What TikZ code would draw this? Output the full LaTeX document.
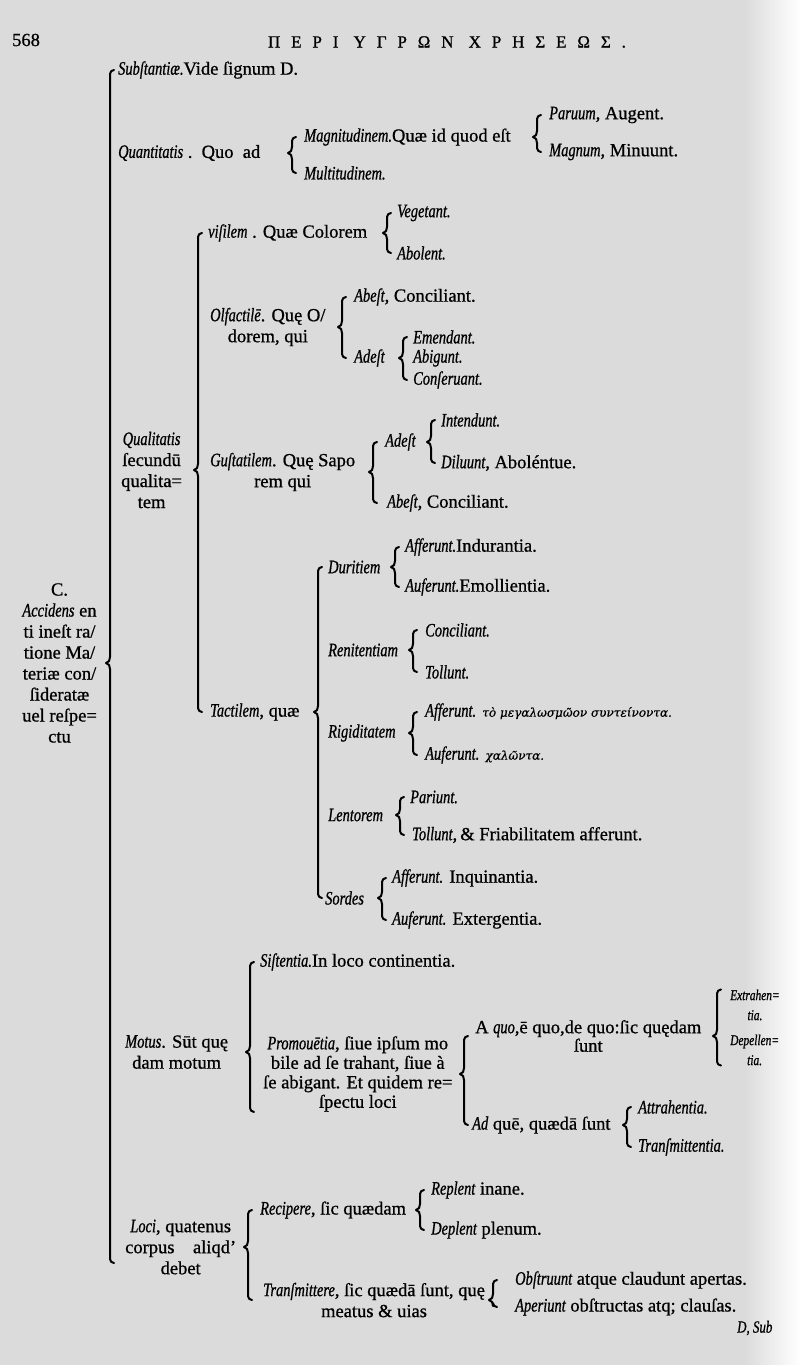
\documentclass[tikz,border=0pt]{standalone}
\usepackage{fontspec}
\setmainfont{Liberation Serif}[FakeBold=0.8]
\newfontfamily\itfont{Liberation Serif}[FakeStretch=0.76, FakeBold=0.8]
\newfontfamily\grk{DejaVu Serif}[FakeBold=0.5]
\newfontfamily\hdfont{Liberation Serif}[LetterSpace=64, FakeBold=1]
\usetikzlibrary{calc}

\definecolor{paper}{gray}{0.86}
\newcommand\I[1]{{\itfont\itshape\fontsize{19}{19}\selectfont #1}}

\tikzset{
  txt/.style={anchor=west, inner sep=0pt, align=center, font=\fontsize{18.5}{21}\selectfont},
  small/.style={txt, font=\itfont\itshape\fontsize{15}{20}\selectfont},
  brace/.style={line width=2pt, line cap=round, line join=round},
}

% parent, top child, bottom child
\newcommand\kbrace[4][9]{%
  \draw[brace] let \p1=(#3), \p2=(#4), \p3=(#2), \n1={\x1-#1} in
    ({\n1+4},\y1) to[out=180,in=90] (\n1,\y1-4pt) -- (\n1,\y3+6pt)
    to[out=-90,in=0] ({\n1-4},\y3) to[out=0,in=90] (\n1,\y3-6pt)
    -- (\n1,\y2+4pt) to[out=-90,in=180] ({\n1+4},\y2);}

\begin{document}
\begin{tikzpicture}[x=1pt,y=-1pt]
\useasboundingbox (0,0) rectangle (800,1365);
\fill[paper] (0,0) rectangle (800,1365);
\shade[left color=paper, right color=white] (745,0) rectangle (800,1365);

\node[txt] (pg) at (12,40) {568};
\node[txt, anchor=center, font=\hdfont\fontsize{17}{18}\selectfont] (hd) at (447,42) {ΠΕΡΙ ΥΓΡΩΝ ΧΡΗΣΕΩΣ.};

\node[txt] (acc) at (22,663) {C.\\\I{Accidens} en\\ti ineſt ra/\\tione Ma/\\teriæ con/\\ſideratæ\\uel reſpe=\\ctu};

\node[txt] (sub) at (118,70) {\I{Subſtantiæ.}Vide ſignum D.};
\node[txt] (quant) at (118,153) {\I{Quantitatis} .\ \ Quo\ \ ad};
\node[txt] (mag) at (304,137) {\I{Magnitudinem.}Quæ id quod eſt};
\node[txt] (mult) at (304,173) {\I{Multitudinem.}};
\node[txt] (parv) at (549,115) {\I{Paruum}, Augent.};
\node[txt] (magn) at (549,152) {\I{Magnum}, Minuunt.};

\node[txt] (qual) at (121,470) {\I{Qualitatis}\\ſecundū\\qualita=\\tem};
\node[txt] (vis) at (208,233) {\I{viſilem} . Quæ Colorem};
\node[txt] (veg) at (397,213) {\I{Vegetant.}};
\node[txt] (abo) at (397,253) {\I{Abolent.}};
\node[txt] (olf) at (210,327) {\I{Olfactilē}. Quę O/\\dorem, qui};
\node[txt] (abe1) at (354,297) {\I{Abeſt}, Conciliant.};
\node[txt] (ade1) at (354,358) {\I{Adeſt}};
\node[txt] (emd) at (413,337) {\I{Emendant.}};
\node[txt] (abi) at (413,358) {\I{Abigunt.}};
\node[txt] (cons) at (413,380) {\I{Conſeruant.}};
\node[txt] (gus) at (210,472) {\I{Guſtatilem}. Quę Sapo\\rem qui};
\node[txt] (ade2) at (385,442) {\I{Adeſt}};
\node[txt] (intd) at (441,420) {\I{Intendunt.}};
\node[txt] (dil) at (441,463) {\I{Diluunt}, Aboléntue.};
\node[txt] (abe2) at (387,503) {\I{Abeſt}, Conciliant.};

\node[txt] (tac) at (210,712) {\I{Tactilem}, quæ};
\node[txt] (dur) at (328,567) {\I{Duritiem}};
\node[txt] (ind) at (405,547) {\I{Afferunt.}Indurantia.};
\node[txt] (emo) at (405,587) {\I{Auferunt.}Emollientia.};
\node[txt] (ren) at (328,650) {\I{Renitentiam}};
\node[txt] (conc) at (425,630) {\I{Conciliant.}};
\node[txt] (tol1) at (425,672) {\I{Tollunt.}};
\node[txt] (rig) at (328,733) {\I{Rigiditatem}};
\node[txt] (aff) at (425,712) {\I{Afferunt.} {\grk\itshape\fontsize{12}{14}\selectfont τὸ μεγαλωσμῶον συντείνοντα.}};
\node[txt] (auf) at (425,755) {\I{Auferunt.} {\grk\itshape\fontsize{12}{14}\selectfont χαλῶντα.}};
\node[txt] (len) at (328,815) {\I{Lentorem}};
\node[txt] (pari) at (410,797) {\I{Pariunt.}};
\node[txt] (tol2) at (412,835) {\I{Tollunt},\,\&\ Friabilitatem afferunt.};
\node[txt] (sor) at (325,898) {\I{Sordes}};
\node[txt] (inq) at (392,878) {\I{Afferunt.} Inquinantia.};
\node[txt] (exg) at (392,920) {\I{Auferunt.} Extergentia.};

\node[txt] (motus) at (125,1052) {\I{Motus}. Sūt quę\\dam motum};
\node[txt] (sis) at (260,962) {\I{Siſtentia.}In loco continentia.};
\node[txt, font=\fontsize{18.5}{19.5}\selectfont] (pro) at (263,1074) {\I{Promouētia}, ſiue ipſum mo\\bile ad ſe trahant, ſiue à\\ſe abigant. Et quidem re=\\ſpectu loci};
\node[txt, font=\fontsize{18.5}{18.5}\selectfont] (aquo) at (475,1036) {A \I{quo},ē quo,de quo:ſic quędam\\ſunt};
\node[small] (extr) at (730,1005) {Extrahen=\\tia.};
\node[small] (depl) at (730,1050) {Depellen=\\tia.};
\node[txt] (adq) at (472,1125) {\I{Ad} quē, quædā ſunt};
\node[txt] (attr) at (638,1107) {\I{Attrahentia.}};
\node[txt] (trm) at (638,1147) {\I{Tranſmittentia.}};

\node[txt] (loci) at (125,1247) {\I{Loci}, quatenus\\corpus\quad aliqd’\\debet};
\node[txt] (rec) at (260,1210) {\I{Recipere}, ſic quædam};
\node[txt] (repl) at (431,1190) {\I{Replent} inane.};
\node[txt] (depn) at (431,1230) {\I{Deplent} plenum.};
\node[txt] (tra) at (263,1300) {\I{Tranſmittere}, ſic quædā ſunt, quę\\meatus \& uias};
\node[txt] (obs) at (515,1280) {\I{Obſtruunt} atque claudunt apertas.};
\node[txt] (ape) at (515,1307) {\I{Aperiunt} obſtructas atq; clauſas.};
\node[txt, font=\itfont\itshape\fontsize{17}{17}\selectfont] (cw) at (737,1328) {D, Sub};

\kbrace[8]{acc.east}{sub.west}{$(loci.west)+(0,16)$}
\kbrace[12]{quant.east}{mag.west}{mult.west}
\kbrace[12]{mag.east}{parv.west}{magn.west}
\kbrace[10]{qual.east}{vis.west}{tac.west}
\kbrace[10]{vis.east}{veg.west}{abo.west}
\kbrace[12]{olf.east}{abe1.west}{ade1.west}
\kbrace[10]{ade1.east}{emd.west}{cons.west}
\kbrace[12]{gus.east}{ade2.west}{abe2.west}
\kbrace[10]{ade2.east}{intd.west}{dil.west}
\kbrace[10]{tac.east}{dur.west}{sor.west}
\kbrace[10]{dur.east}{ind.west}{emo.west}
\kbrace[12]{ren.east}{conc.west}{tol1.west}
\kbrace[12]{rig.east}{aff.west}{auf.west}
\kbrace[10]{len.east}{pari.west}{tol2.west}
\kbrace[10]{sor.east}{inq.west}{exg.west}
\kbrace[10]{motus.east}{sis.west}{pro.south west}
\kbrace[11]{pro.east}{aquo.west}{adq.west}
\kbrace[13]{aquo.east}{extr.north west}{depl.south west}
\kbrace[11]{adq.east}{attr.west}{trm.west}
\kbrace[12]{loci.east}{rec.west}{tra.west}
\kbrace[11]{rec.east}{repl.west}{depn.west}
\kbrace[22]{tra.east}{obs.west}{ape.west}
\end{tikzpicture}
\end{document}
